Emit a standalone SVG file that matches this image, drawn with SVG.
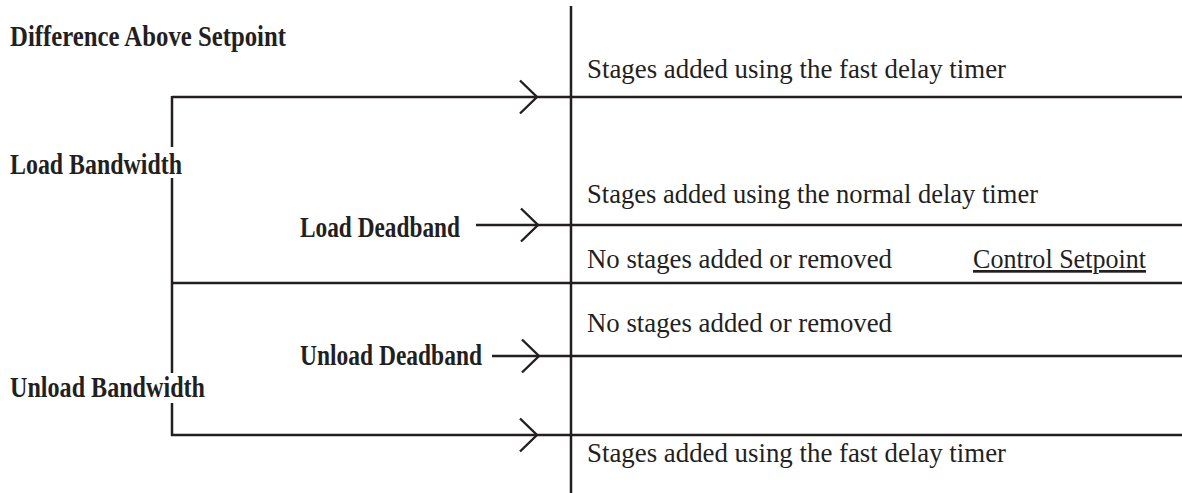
<svg xmlns="http://www.w3.org/2000/svg" width="1182" height="493" viewBox="0 0 1182 493" font-family="Liberation Serif, Times New Roman, Times, serif">
<defs>
<style>
text{font-family:"Liberation Serif",Tinos,"Times New Roman",Times,serif;fill:#231f20}
.lbl{font-weight:bold;font-size:29px}
.txt{font-size:27px}
.ln{stroke:#231f20;stroke-width:2.5;fill:none}
</style>
<marker id="chev" viewBox="0 0 20 36" refX="18" refY="18" markerWidth="20" markerHeight="36" markerUnits="userSpaceOnUse" orient="auto">
<path d="M1,1.5 L18,18 L1,34.5" fill="none" stroke="#231f20" stroke-width="2.4"/>
</marker>
</defs>
<rect width="1182" height="493" fill="#fff"/>
<g id="connectors">
<line class="ln" x1="571" y1="6" x2="571" y2="493"/>
<line class="ln" x1="172" y1="97" x2="537" y2="97" marker-end="url(#chev)"/>
<line class="ln" x1="537" y1="97" x2="1182" y2="97"/>
<line class="ln" x1="172" y1="96" x2="172" y2="147"/>
<line class="ln" x1="172" y1="178" x2="172" y2="373"/>
<line class="ln" x1="172" y1="403" x2="172" y2="436"/>
<line class="ln" x1="476" y1="225" x2="538" y2="225" marker-end="url(#chev)"/>
<line class="ln" x1="538" y1="225" x2="1182" y2="225"/>
<line class="ln" x1="172" y1="283" x2="1182" y2="283"/>
<line class="ln" x1="492" y1="356" x2="539" y2="356" marker-end="url(#chev)"/>
<line class="ln" x1="539" y1="356" x2="1182" y2="356"/>
<line class="ln" x1="171" y1="435" x2="537" y2="435" marker-end="url(#chev)"/>
<line class="ln" x1="537" y1="435" x2="1182" y2="435"/>
</g>
<g id="difference-above-setpoint"><text class="lbl" x="10" y="46" textLength="276" lengthAdjust="spacingAndGlyphs">Difference Above Setpoint</text></g>
<g id="load-bandwidth"><text class="lbl" x="10" y="174" textLength="172" lengthAdjust="spacingAndGlyphs">Load Bandwidth</text></g>
<g id="load-deadband"><text class="lbl" x="300" y="237" textLength="160" lengthAdjust="spacingAndGlyphs">Load Deadband</text></g>
<g id="unload-deadband"><text class="lbl" x="300" y="365" textLength="182" lengthAdjust="spacingAndGlyphs">Unload Deadband</text></g>
<g id="unload-bandwidth"><text class="lbl" x="10" y="397" textLength="195" lengthAdjust="spacingAndGlyphs">Unload Bandwidth</text></g>
<g id="zone-fast-load"><text class="txt" x="587" y="78" textLength="419" lengthAdjust="spacingAndGlyphs">Stages added using the fast delay timer</text></g>
<g id="zone-normal-load"><text class="txt" x="587" y="203" textLength="451" lengthAdjust="spacingAndGlyphs">Stages added using the normal delay timer</text></g>
<g id="zone-none-load"><text class="txt" x="587" y="268" textLength="305" lengthAdjust="spacingAndGlyphs">No stages added or removed</text></g>
<g id="control-setpoint"><text class="txt" x="973" y="268" textLength="173" lengthAdjust="spacingAndGlyphs" text-decoration="underline">Control Setpoint</text></g>
<g id="zone-none-unload"><text class="txt" x="587" y="332" textLength="305" lengthAdjust="spacingAndGlyphs">No stages added or removed</text></g>
<g id="zone-fast-unload"><text class="txt" x="587" y="462" textLength="419" lengthAdjust="spacingAndGlyphs">Stages added using the fast delay timer</text></g>
</svg>
